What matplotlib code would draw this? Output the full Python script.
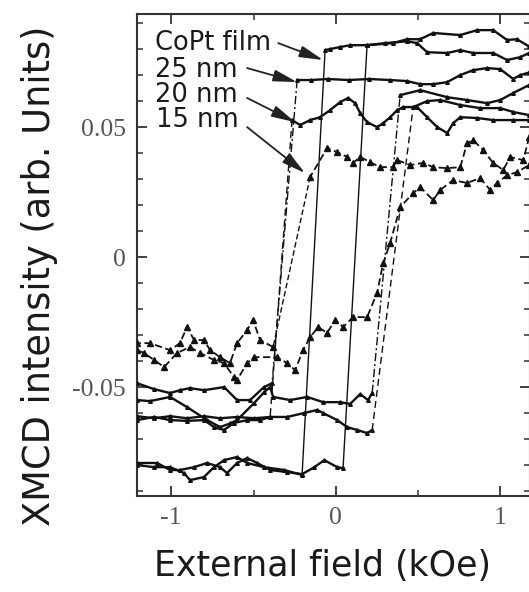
import matplotlib
matplotlib.use('Agg')
import matplotlib.pyplot as plt

# ---------------- data (kOe, arb. units) ----------------
# CoPt film
copt_desc_top_x = [1.175, 1.100, 1.041, 0.956, 0.859, 0.756, 0.592, 0.513, 0.433, 0.348, 0.190, 0.087, 0.026, -0.035, -0.065]
copt_desc_top_y = [0.0810, 0.0838, 0.0835, 0.0873, 0.0873, 0.0854, 0.0862, 0.0838, 0.0838, 0.0823, 0.0815, 0.0815, 0.0808, 0.0800, 0.0796]
copt_desc_bot_x = [-0.205, -0.314, -0.436, -0.539, -0.600, -0.679, -0.740, -0.801, -0.886, -0.922, -1.007, -1.104, -1.208]
copt_desc_bot_y = [-0.0838, -0.0819, -0.0808, -0.0792, -0.0769, -0.0781, -0.0808, -0.0846, -0.0858, -0.0831, -0.0808, -0.0808, -0.0800]
copt_asc_bot_x = [-1.208, -1.086, -1.007, -0.947, -0.861, -0.782, -0.703, -0.661, -0.600, -0.539, -0.478, -0.399, -0.296, -0.205, -0.130, -0.070, 0.008, 0.044]
copt_asc_bot_y = [-0.0792, -0.0792, -0.0819, -0.0819, -0.0808, -0.0792, -0.0808, -0.0831, -0.0792, -0.0773, -0.0792, -0.0819, -0.0827, -0.0835, -0.0808, -0.0781, -0.0808, -0.0812]
copt_asc_top_x = [0.190, 0.300, 0.433, 0.494, 0.555, 0.677, 0.756, 0.835, 0.956, 1.041, 1.120, 1.175]
copt_asc_top_y = [0.0815, 0.0823, 0.0830, 0.0823, 0.0788, 0.0785, 0.0796, 0.0785, 0.0785, 0.0758, 0.0769, 0.0785]

# 25 nm
n25_desc_top_x = [1.175, 1.120, 1.078, 0.999, 0.920, 0.835, 0.756, 0.677, 0.592, 0.513, 0.433, 0.330, 0.200, 0.080, -0.050, -0.150, -0.235]
n25_desc_top_y = [0.0710, 0.0700, 0.0685, 0.0723, 0.0727, 0.0719, 0.0700, 0.0673, 0.0665, 0.0665, 0.0677, 0.0681, 0.0685, 0.0681, 0.0685, 0.0681, 0.0681]
n25_desc_bot_x = [-0.387, -0.436, -0.521, -0.600, -0.679, -0.801, -0.886, -0.947, -1.007, -1.104, -1.208]
n25_desc_bot_y = [-0.0485, -0.0500, -0.0550, -0.0550, -0.0500, -0.0512, -0.0504, -0.0512, -0.0523, -0.0508, -0.0485]
n25_asc_bot_x = [-1.208, -1.129, -1.007, -0.904, -0.782, -0.703, -0.643, -0.600, -0.497, -0.436, -0.399, -0.381, -0.278, -0.174, -0.077, 0.026, 0.087, 0.148, 0.196, 0.221]
n25_asc_bot_y = [-0.0550, -0.0554, -0.0538, -0.0577, -0.0627, -0.0654, -0.0640, -0.0627, -0.0562, -0.0520, -0.0500, -0.0538, -0.0550, -0.0538, -0.0558, -0.0558, -0.0565, -0.0527, -0.0550, -0.0523]
n25_asc_top_x = [0.391, 0.513, 0.677, 0.798, 0.920, 0.999, 1.078, 1.175]
n25_asc_top_y = [0.0623, 0.0642, 0.0615, 0.0604, 0.0592, 0.0604, 0.0631, 0.0662]

# 20 nm
n20_desc_top_x = [1.175, 1.078, 0.956, 0.859, 0.756, 0.713, 0.677, 0.616, 0.555, 0.494, 0.409, 0.373, 0.330, 0.288, 0.251, 0.190, 0.148, 0.117, 0.075, 0.026, -0.035, -0.095, -0.156, -0.217, -0.266]
n20_desc_top_y = [0.0527, 0.0527, 0.0527, 0.0535, 0.0538, 0.0515, 0.0477, 0.0500, 0.0538, 0.0577, 0.0577, 0.0565, 0.0538, 0.0515, 0.0500, 0.0519, 0.0554, 0.0592, 0.0612, 0.0596, 0.0565, 0.0538, 0.0527, 0.0508, 0.0527]
n20_desc_bot_x = [-0.399, -0.460, -0.539, -0.618, -0.679, -0.740, -0.801, -0.904, -1.007, -1.104, -1.208]
n20_desc_bot_y = [-0.0615, -0.0627, -0.0627, -0.0638, -0.0665, -0.0654, -0.0627, -0.0630, -0.0627, -0.0615, -0.0627]
n20_asc_bot_x = [-1.208, -1.104, -1.007, -0.904, -0.801, -0.703, -0.600, -0.497, -0.399, -0.296, -0.193, -0.113, -0.077, 0.008, 0.069, 0.129, 0.190, 0.221]
n20_asc_bot_y = [-0.0612, -0.0620, -0.0612, -0.0620, -0.0612, -0.0620, -0.0615, -0.0620, -0.0615, -0.0615, -0.0600, -0.0588, -0.0600, -0.0627, -0.0654, -0.0665, -0.0677, -0.0665]
n20_asc_top_x = [0.470, 0.555, 0.634, 0.756, 0.877, 0.999, 1.078, 1.175]
n20_asc_top_y = [0.0577, 0.0600, 0.0604, 0.0585, 0.0573, 0.0573, 0.0558, 0.0546]

# 15 nm
n15_desc_top_x = [1.175, 1.139, 1.060, 1.017, 0.956, 0.895, 0.835, 0.798, 0.756, 0.677, 0.592, 0.531, 0.452, 0.373, 0.348, 0.269, 0.209, 0.148, 0.105, 0.069, 0.008, -0.053, -0.156]
n15_desc_top_y = [0.0462, 0.0373, 0.0385, 0.0335, 0.0362, 0.0412, 0.0450, 0.0438, 0.0346, 0.0342, 0.0346, 0.0362, 0.0354, 0.0373, 0.0346, 0.0346, 0.0365, 0.0385, 0.0362, 0.0385, 0.0404, 0.0419, 0.0308]
n15_desc_bot_x = [-0.381, -0.460, -0.503, -0.539, -0.600, -0.643, -0.703, -0.764, -0.801, -0.861, -0.904, -0.947, -1.007, -1.129, -1.208]
n15_desc_bot_y = [-0.0346, -0.0319, -0.0242, -0.0281, -0.0331, -0.0408, -0.0385, -0.0358, -0.0319, -0.0319, -0.0269, -0.0331, -0.0358, -0.0331, -0.0331]
n15_asc_x = [-1.208, -1.165, -1.104, -1.043, -0.965, -0.886, -0.825, -0.740, -0.679, -0.618, -0.600, -0.539, -0.497, -0.357, -0.296, -0.247, -0.199, -0.156, -0.107, -0.053, -0.004, 0.044, 0.105, 0.190, 0.251, 0.288, 0.330, 0.391,
             0.470, 0.513, 0.592, 0.634, 0.713, 0.798, 0.877, 0.938, 0.981, 1.041, 1.102, 1.175]
n15_asc_y = [-0.0358, -0.0369, -0.0396, -0.0423, -0.0369, -0.0346, -0.0369, -0.0396, -0.0408, -0.0462, -0.0473, -0.0408, -0.0385, -0.0385, -0.0408, -0.0435, -0.0358, -0.0308, -0.0269, -0.0292, -0.0242, -0.0269, -0.0231, -0.0231, -0.0138, -0.0023, 0.0054, 0.0192,
             0.0246, 0.0269, 0.0219, 0.0258, 0.0296, 0.0285, 0.0304, 0.0258, 0.0285, 0.0315, 0.0327, 0.0354]

sample_labels = ['CoPt film', '25 nm', '20 nm', '15 nm']
x_ticks = [-1, 0, 1]
x_tick_labels = ['-1', '0', '1']
y_ticks = [-0.05, 0, 0.05]
y_tick_labels = ['-0.05', '0', '0.05']

# ---------------- figure ----------------
W, H = 529, 592
fig = plt.figure(figsize=(W / 100, H / 100), dpi=100)
ax = fig.add_axes([137 / W, 96 / H, (530 - 137) / W, (496 - 14) / H])
ax.set_xlim(-1.208, 1.18)
ax.set_ylim(-0.0919, 0.0935)

K = '#111111'


def sat(x, y, ls='-', ms=2.6, marker='^', lw=1.7, dashes=None):
    line, = ax.plot(x, y, color=K, lw=lw, ls=ls, marker=marker, ms=ms,
                    mfc=K, mec=K, zorder=3)
    if dashes is not None:
        line.set_dashes(dashes)


def switch(x0, y0, x1, y1, dashes=None, lw=1.0):
    line, = ax.plot([x0, x1], [y0, y1], color=K, lw=lw, zorder=2)
    if dashes is not None:
        line.set_dashes(dashes)


# CoPt film
sat(copt_desc_top_x, copt_desc_top_y)
sat(copt_desc_bot_x, copt_desc_bot_y)
sat(copt_asc_bot_x, copt_asc_bot_y)
sat(copt_asc_top_x, copt_asc_top_y)
switch(copt_desc_top_x[-1], copt_desc_top_y[-1], copt_desc_bot_x[0], copt_desc_bot_y[0])
switch(copt_asc_bot_x[-1], copt_asc_bot_y[-1], copt_asc_top_x[0], copt_asc_top_y[0])

# 25 nm
sat(n25_desc_top_x, n25_desc_top_y)
sat(n25_desc_bot_x, n25_desc_bot_y)
sat(n25_asc_bot_x, n25_asc_bot_y)
sat(n25_asc_top_x, n25_asc_top_y)
switch(n25_desc_top_x[-1], n25_desc_top_y[-1], n25_desc_bot_x[0], n25_desc_bot_y[0], dashes=(6, 2, 1.5, 2))
switch(n25_asc_bot_x[-1], n25_asc_bot_y[-1], n25_asc_top_x[0], n25_asc_top_y[0], dashes=(6, 2, 1.5, 2))

# 20 nm
sat(n20_desc_top_x, n20_desc_top_y)
sat(n20_desc_bot_x, n20_desc_bot_y)
sat(n20_asc_bot_x, n20_asc_bot_y)
sat(n20_asc_top_x, n20_asc_top_y)
switch(n20_desc_top_x[-1], n20_desc_top_y[-1], n20_desc_bot_x[0], n20_desc_bot_y[0], dashes=(5, 3))
switch(n20_asc_bot_x[-1], n20_asc_bot_y[-1], n20_asc_top_x[0], n20_asc_top_y[0], dashes=(5, 3))

# 15 nm
sat(n15_desc_top_x, n15_desc_top_y, ms=3.8, lw=1.3, dashes=(4, 2))
sat(n15_desc_bot_x, n15_desc_bot_y, ms=3.8, lw=1.3, dashes=(4, 2))
sat(n15_asc_x, n15_asc_y, ms=3.8, lw=1.3, dashes=(4, 2))
switch(n15_desc_top_x[-1], n15_desc_top_y[-1], n15_desc_bot_x[0], n15_desc_bot_y[0], dashes=(4, 2))

# ---------------- labels with arrows ----------------
label_font = ['DejaVu Sans']
text_pos = [(-1.10, 0.0796), (-1.10, 0.0692), (-1.10, 0.0596), (-1.09, 0.0500)]
arrow_tail = [(-0.35, 0.0823), (-0.539, 0.0727), (-0.539, 0.0612), (-0.539, 0.0500)]
arrow_tip = [(-0.077, 0.0758), (-0.235, 0.0673), (-0.247, 0.0519), (-0.187, 0.0323)]
for lab, tp, tail, tip in zip(sample_labels, text_pos, arrow_tail, arrow_tip):
    ax.text(tp[0], tp[1], lab, family=label_font, fontsize=18.5, color='#1a1a1a',
            ha='left', va='baseline', zorder=5)
    ax.annotate('', xy=tip, xytext=tail,
                arrowprops=dict(arrowstyle='-|>,head_length=0.9,head_width=0.22',
                                color='#222222', lw=1.3, shrinkA=0, shrinkB=0,
                                mutation_scale=16), zorder=5)

# ---------------- axes styling ----------------
ax.set_xticks(x_ticks)
ax.set_xticklabels(x_tick_labels)
ax.set_xticks([-0.5, 0.5], minor=True)
ax.set_yticks(y_ticks)
ax.set_yticklabels(y_tick_labels)
ax.set_yticks([v / 100 for v in range(-9, 10) if v % 5 != 0], minor=True)
ax.tick_params(which='both', direction='in', top=True, right=True, colors='#333333')
ax.tick_params(which='major', length=7, width=1.3, pad=8, labelsize=18.5, labelcolor='#555555')
ax.tick_params(which='minor', length=4, width=1.1)
for lbl in ax.get_xticklabels() + ax.get_yticklabels():
    lbl.set_family(['Liberation Serif', 'DejaVu Serif'])
for sp in ax.spines.values():
    sp.set_color('#333333')
    sp.set_linewidth(1.5)

fig.text(322 / W, 1 - 566 / H, 'External field (kOe)', family=label_font,
         fontsize=25, color='#1a1a1a', ha='center', va='center')
fig.text(40 / W, 1 - 276 / H, 'XMCD intensity (arb. Units)', family=label_font,
         fontsize=26.5, color='#1a1a1a', ha='center', va='center', rotation=90)

fig.savefig('out.png', dpi=100)
